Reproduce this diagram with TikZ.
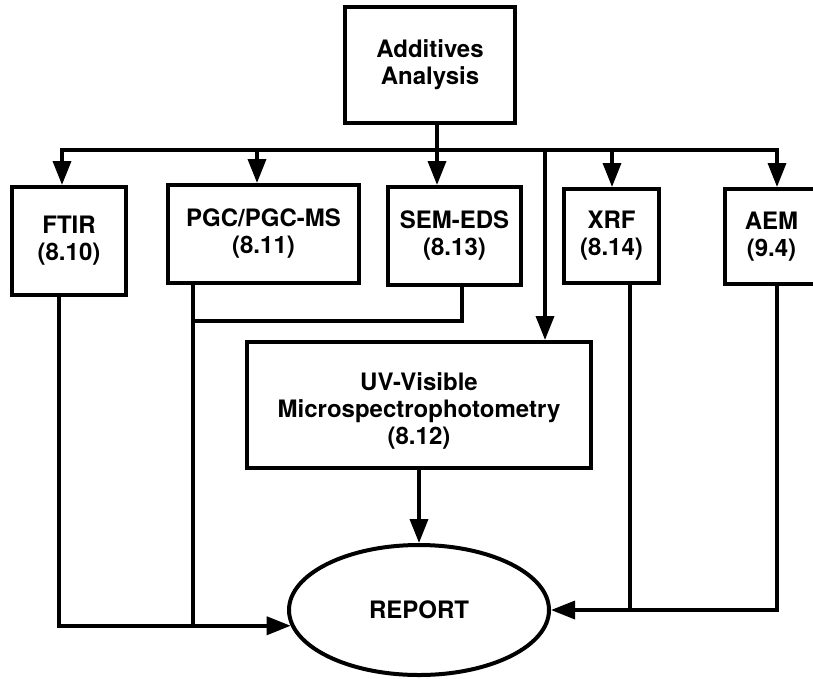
\documentclass[tikz,border=0pt]{standalone}
\usepackage{fontspec}
\setmainfont{TeX Gyre Heros}
\usetikzlibrary{
    arrows.meta,
    shapes.geometric,
    calc
}

\begin{document}
\begin{tikzpicture}[x=1pt, y=-1pt, line width=3.5pt,
    >={Triangle[length=24pt, width=18pt]},
    box/.style={draw, line width=4pt, align=center, inner sep=0pt,
        font=\bfseries\fontsize{24}{27}\selectfont},
    oval/.style={box, ellipse}]
    \useasboundingbox (0, 0) rectangle (813, 678);

    \node[box, minimum width=170pt, minimum height=116pt] (addit) at (430, 65) {Additives\\Analysis};
    \node[box, minimum width=114pt, minimum height=108pt] (ftir) at (69, 241) {FTIR\\(8.10)};
    \node[box, minimum width=191pt, minimum height=98pt] (pgc) at (263.5, 234) {PGC/PGC-MS\\(8.11)};
    \node[box, minimum width=133pt, minimum height=98pt] (sem) at (454.5, 236) {SEM-EDS\\(8.13)};
    \node[box, minimum width=95pt, minimum height=94pt] (xrf) at (611.5, 236) {XRF\\(8.14)};
    \node[box, minimum width=93pt, minimum height=95pt] (aem) at (771.5, 236.5) {AEM\\(9.4)};
    \node[box, minimum width=344pt, minimum height=126pt] (uv) at (419, 405) {\rule{0pt}{29pt}UV-Visible\\Microspectrophotometry\\(8.12)};
    \node[oval, minimum width=260pt, minimum height=130pt] (report) at (419, 610) {REPORT};

    \coordinate (dF) at (62, 150);
    \coordinate (dP) at (257, 150);
    \coordinate (dS) at (437, 150);
    \coordinate (dU) at (545, 150);
    \coordinate (dX) at (612, 150);
    \coordinate (dA) at (777, 150);
    \coordinate (jF) at (59, 625);
    \coordinate (jP) at (193, 321);
    \coordinate (jS) at (462, 321);
    \coordinate (jX) at (630, 607);
    \coordinate (jA) at (777, 607);

    \draw[<->] (dF |- ftir.north) -- (dF) -- (dA) -- (dA |- aem.north);
    \draw[->] (addit.south -| dS) -- (dS |- sem.north);
    \draw
    (dP) edge[->] (dP |- pgc.north)
    (dX) edge[->] (dX |- xrf.north)
    (dU) edge[->] (dU |- uv.north);

    \draw[->] (ftir.south -| jF) |- (report.187);
    \draw (pgc.south -| jP) -- (jP |- report.187);
    \draw (sem.south -| jS) |- (jP);
    \draw[->] (aem.south -| jA) |- (report.east);
    \draw (xrf.south -| jX) -- (jX |- report.east);
    \draw[->] (uv) -- (report);
\end{tikzpicture}
\end{document}
